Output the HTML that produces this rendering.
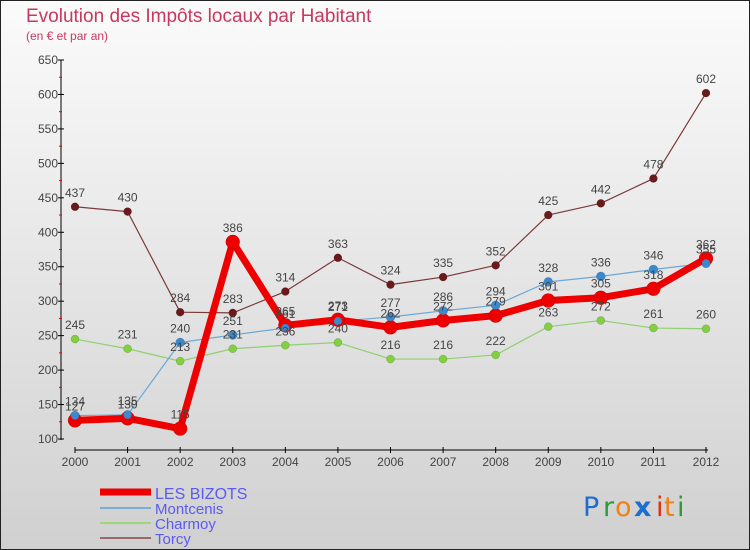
<!DOCTYPE html>
<html><head><meta charset="utf-8"><style>
body{margin:0;}
svg{display:block;font-family:"Liberation Sans",sans-serif;}
</style></head><body>
<svg id="c" width="750" height="550" xmlns="http://www.w3.org/2000/svg">
<defs><linearGradient id="bg" x1="0" y1="0" x2="0" y2="1"><stop offset="0" stop-color="#fbfbfb"/><stop offset="1" stop-color="#d0d0d0"/></linearGradient></defs>
<rect x="0.5" y="0.5" width="749" height="549" fill="url(#bg)" stroke="#222"/>
<text x="26" y="22" font-size="19" fill="#c8385e">Evolution des Impôts locaux par Habitant</text>
<text x="26" y="40" font-size="12" fill="#c8385e">(en € et par an)</text>
<g id="axes"></g><g id="series"></g><g id="labels"></g>
<g>
<line x1="100" y1="492" x2="151" y2="492" stroke="#e00" stroke-width="7"/>
<text x="155" y="499" font-size="16" fill="#5b5bf0">LES BIZOTS</text>
<line x1="100" y1="508" x2="151" y2="508" stroke="#7ab0d6" stroke-width="2"/>
<text x="155" y="514" font-size="15" fill="#5b5bf0">Montcenis</text>
<line x1="100" y1="523" x2="151" y2="523" stroke="#9ed67a" stroke-width="2"/>
<text x="155" y="529" font-size="15" fill="#5b5bf0">Charmoy</text>
<line x1="100" y1="538" x2="151" y2="538" stroke="#9a6a6a" stroke-width="2"/>
<text x="155" y="544" font-size="15" fill="#5b5bf0">Torcy</text>
</g>
<g font-size="27" font-family="'DejaVu Sans',sans-serif">
<text x="583" y="516" fill="#1a6fd0">P</text><text x="603" y="516" fill="#2a9a3a">r</text><text x="615" y="516" fill="#f08010">o</text><text x="634" y="516" fill="#1a6fd0" font-weight="bold">x</text><text x="656" y="516" fill="#e03010">i</text><text x="664" y="516" fill="#f08010">t</text><text x="677" y="516" fill="#2a9a3a">i</text>
</g>
</svg>
<script>
const years=[2000,2001,2002,2003,2004,2005,2006,2007,2008,2009,2010,2011,2012];
const bizots=[127,130,115,386,265,273,262,272,279,301,305,318,362];
const montcenis=[134,135,240,251,261,271,277,286,294,328,336,346,355];
const charmoy=[245,231,213,231,236,240,216,216,222,263,272,261,260];
const torcy=[437,430,284,283,314,363,324,335,352,425,442,478,602];
const yTicks=[100,150,200,250,300,350,400,450,500,550,600,650];
const NS="http://www.w3.org/2000/svg";
const X=i=>75+i*(706-75)/(years.length-1);
const Y=v=>439-(v-100)*(439-60)/550;
function mk(tag,attrs,parent){const e=document.createElementNS(NS,tag);for(const k in attrs)e.setAttribute(k,attrs[k]);parent.appendChild(e);return e;}
const ax=document.getElementById('axes'),sg=document.getElementById('series'),lg=document.getElementById('labels');
let a=mk('line',{x1:61,y1:60,x2:61,y2:440,stroke:'#000'},ax);


yTicks.forEach((t,i)=>{
 mk('line',{x1:58,y1:Y(t),x2:64,y2:Y(t),stroke:'#000'},ax);
 if(i<yTicks.length-1) mk('line',{x1:59,y1:Y(t+25),x2:62,y2:Y(t+25),stroke:'#e00'},ax);
 const tx=mk('text',{x:58,y:Y(t)+4,'font-size':12,fill:'#444','text-anchor':'end'},ax);tx.textContent=t;
 
 
});
a=mk('line',{x1:75,y1:450,x2:708,y2:450,stroke:'#000'},ax);


years.forEach((y,i)=>{
 mk('line',{x1:X(i),y1:447,x2:X(i),y2:453,stroke:'#000'},ax);
 const tx=mk('text',{x:X(i),y:466,'font-size':12,fill:'#444','text-anchor':'middle'},ax);tx.textContent=y;
 
 
});
function series(name,data,color,w,r,dot){
 const g=mk('g',{},sg);
 
 
 mk('polyline',{points:data.map((v,i)=>X(i)+','+Y(v)).join(' '),fill:'none',stroke:color,'stroke-width':w,'stroke-linejoin':'round'},g);
 data.forEach((v,i)=>{
  const c=mk('circle',{cx:X(i),cy:Y(v),r:r,fill:dot,stroke:'rgba(0,0,0,0.25)','stroke-width':0.5},g);
  
  
  const t=mk('text',{x:X(i),y:Y(v)-10,'font-size':12,fill:'#444','text-anchor':'middle'},lg);t.textContent=v;
  
  
 });
}
series('torcy',torcy,'#7a3a3a',1.2,4,'#6a1a1a');
series('charmoy',charmoy,'#90d070',1.2,4,'#80d040');
series('montcenis',montcenis,'#6aa8d8',1.2,4.5,'#3a8ad0');
series('les-bizots',bizots,'#ee0000',7,7,'#ee0000');
// redraw montcenis dots over bizots like reference
montcenis.forEach((v,i)=>{const c=mk('circle',{cx:X(i),cy:Y(v),r:4,fill:'#3a8ad0'},sg);
 
 });
</script>
</body></html>
